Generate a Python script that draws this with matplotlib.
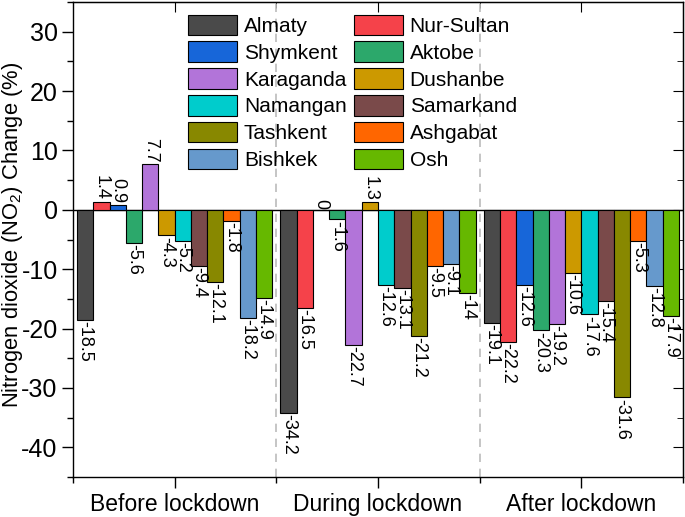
import numpy as np
import matplotlib
matplotlib.use('Agg')
import matplotlib.pyplot as plt

plt.rcParams['font.family'] = ['Liberation Sans', 'DejaVu Sans']
plt.rcParams['mathtext.default'] = 'regular'
plt.rcParams['axes.unicode_minus'] = False

# ---------------- DATA ----------------
periods = ["Before lockdown", "During lockdown", "After lockdown"]
cities = ["Almaty", "Nur-Sultan", "Shymkent", "Aktobe", "Karaganda", "Dushanbe",
          "Namangan", "Samarkand", "Tashkent", "Ashgabat", "Bishkek", "Osh"]
before = [-18.5, 1.4, 0.9, -5.6, 7.7, -4.3, -5.2, -9.4, -12.1, -1.8, -18.2, -14.9]
during = [-34.2, -16.5, 0, -1.6, -22.7, 1.3, -12.6, -13.1, -21.2, -9.5, -9.1, -14]
after = [-19.1, -22.2, -12.6, -20.3, -19.2, -10.6, -17.6, -15.4, -31.6, -5.3, -12.8, -17.9]
colors = ["#4a4a4a", "#f5424a", "#1766d9", "#2ca86b", "#b274d9", "#cc9900",
          "#00cccc", "#7a4a4a", "#888800", "#ff6600", "#6699cc", "#66b800"]

values = np.array([before, during, after])  # (period, city)

# ---------------- PLOT ----------------
fig = plt.figure(figsize=(6.85, 5.17), dpi=100)
ax = fig.add_axes([0.1066, 0.0774, 0.8905, 0.9186])

n = len(cities)
width = 0.08
x = np.arange(1, len(periods) + 1)
handles = []
for i, city in enumerate(cities):
    pos = x + (i - (n - 1) / 2) * width
    bars = ax.bar(pos, values[:, i], width, color=colors[i], edgecolor='black',
                  linewidth=0.8, label=city, zorder=3)
    handles.append(bars)
    for xp, v in zip(pos, values[:, i]):
        txt = f"{v:g}"
        if v >= 0:
            ax.text(xp, v + 0.2, txt, rotation=270, ha='center', va='bottom',
                    fontsize=13, zorder=4)
        else:
            ax.text(xp, v - 0.2, txt, rotation=270, ha='center', va='top',
                    fontsize=13, zorder=4)

ax.axhline(0, color='black', linewidth=1, zorder=2)
for sep in [1.5, 2.5]:
    ax.axvline(sep, color='#bbbbbb', linestyle=(0, (5, 4)), linewidth=1.2, zorder=1)

ax.set_xlim(0.5, 3.5)
ax.set_ylim(-45, 35)
ax.set_xticks(x)
ax.set_xticklabels(periods, fontsize=16.5)
ax.set_xticks([0.5, 1.5, 2.5, 3.5], minor=True)
ax.set_yticks(np.arange(-40, 31, 10))
ax.set_yticks(np.arange(-45, 36, 5), minor=True)
ax.tick_params(axis='y', labelsize=18, pad=3)
ax.tick_params(which='major', direction='out', length=8, width=1)
ax.tick_params(which='minor', direction='out', length=4, width=1)
ax.set_ylabel("Nitrogen dioxide (NO$_2$) Change (%)", fontsize=15.8)
ax.yaxis.set_label_coords(-0.0795, 0.51)
for s in ax.spines.values():
    s.set_linewidth(1)

# mirror ticks pointing inward on top/right
top = ax.secondary_xaxis('top')
top.set_xticks(x)
top.set_xticks([0.5, 1.5, 2.5, 3.5], minor=True)
top.tick_params(which='both', direction='in', labeltop=False)
top.tick_params(which='major', length=7)
top.tick_params(which='minor', length=4)
right = ax.secondary_yaxis('right')
right.set_yticks(np.arange(-40, 31, 10))
right.set_yticks(np.arange(-45, 36, 5), minor=True)
right.tick_params(which='both', direction='in', labelright=False)
right.tick_params(which='major', length=7)
right.tick_params(which='minor', length=4)

# legend: row-major order like the original (2 columns)
order = list(range(0, n, 2)) + list(range(1, n, 2))
ax.legend([handles[i] for i in order], [cities[i] for i in order], ncol=2,
          loc='upper left', bbox_to_anchor=(0.168, 1.0), frameon=False,
          fontsize=15, handlelength=2.35, handleheight=1.15, labelspacing=0.26,
          columnspacing=0.35, handletextpad=0.33, borderaxespad=0.2)

plt.savefig("out.png", dpi=100)
